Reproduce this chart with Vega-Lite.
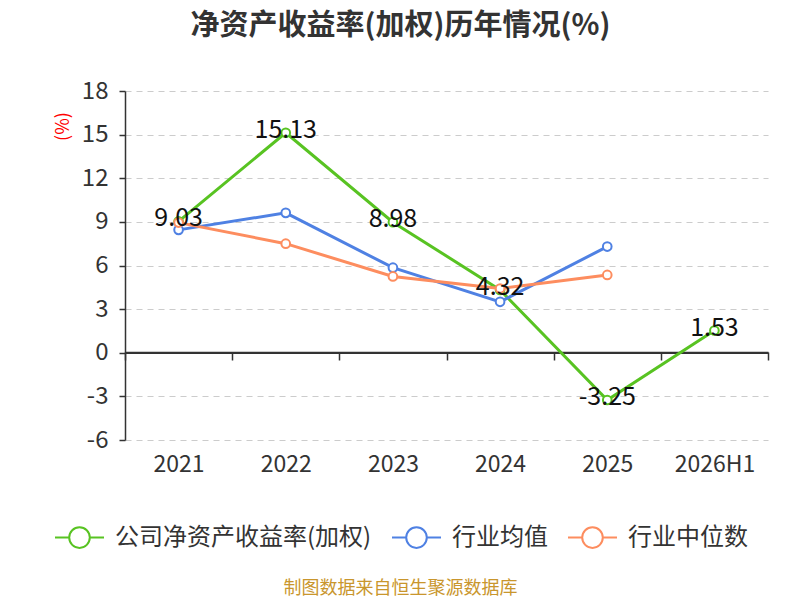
{
  "$schema": "https://vega.github.io/schema/vega-lite/v6.json",
  "autosize": "none",
  "width": 643,
  "height": 349,
  "padding": {"left": 125, "top": 91, "right": 32, "bottom": 160},
  "background": "white",
  "config": {
    "font": "Noto Sans CJK SC",
    "view": {"stroke": null}
  },
  "title": {
    "text": "净资产收益率(加权)历年情况(%)",
    "fontSize": 29,
    "fontWeight": "bold",
    "color": "#333333",
    "anchor": "middle",
    "dx": -46,
    "offset": 38
  },
  "data": {
    "values": [
      {"year": "2021", "series": "公司净资产收益率(加权)", "value": 9.03},
      {"year": "2022", "series": "公司净资产收益率(加权)", "value": 15.13},
      {"year": "2023", "series": "公司净资产收益率(加权)", "value": 8.98},
      {"year": "2024", "series": "公司净资产收益率(加权)", "value": 4.32},
      {"year": "2025", "series": "公司净资产收益率(加权)", "value": -3.25},
      {"year": "2026H1", "series": "公司净资产收益率(加权)", "value": 1.53},
      {"year": "2021", "series": "行业均值", "value": 8.45},
      {"year": "2022", "series": "行业均值", "value": 9.62},
      {"year": "2023", "series": "行业均值", "value": 5.85},
      {"year": "2024", "series": "行业均值", "value": 3.5},
      {"year": "2025", "series": "行业均值", "value": 7.3},
      {"year": "2021", "series": "行业中位数", "value": 8.95},
      {"year": "2022", "series": "行业中位数", "value": 7.5},
      {"year": "2023", "series": "行业中位数", "value": 5.25},
      {"year": "2024", "series": "行业中位数", "value": 4.42},
      {"year": "2025", "series": "行业中位数", "value": 5.35}
    ]
  },
  "encoding": {
    "x": {
      "field": "year",
      "type": "ordinal",
      "sort": ["2021", "2022", "2023", "2024", "2025", "2026H1"],
      "scale": {"type": "band", "paddingInner": 0, "paddingOuter": 0},
      "axis": {
        "offset": -88,
        "tickBand": "extent",
        "domainColor": "#333333",
        "domainWidth": 1.5,
        "tickColor": "#333333",
        "tickWidth": 1.5,
        "tickSize": 8,
        "labelAngle": 0,
        "labelFontSize": 23,
        "labelColor": "#333333",
        "labelPadding": 93,
        "grid": false,
        "title": "制图数据来自恒生聚源数据库",
        "titleColor": "#c9962d",
        "titleFontSize": 18,
        "titleFontWeight": "normal",
        "titleX": 275,
        "titleY": 236,
        "titleBaseline": "middle",
        "titleAnchor": null
      }
    },
    "y": {
      "field": "value",
      "type": "quantitative",
      "scale": {"domain": [-6, 18], "nice": false},
      "axis": {
        "values": [-6, -3, 0, 3, 6, 9, 12, 15, 18],
        "labelExpr": "toString(datum.value)",
        "domainColor": "#333333",
        "domainWidth": 1.5,
        "tickColor": "#333333",
        "tickWidth": 1.5,
        "tickSize": 6,
        "labelFontSize": 24,
        "labelColor": "#333333",
        "labelPadding": 11,
        "gridColor": "#cccccc",
        "gridDash": [6, 5],
        "gridWidth": 1.2,
        "title": "(%)",
        "titleColor": "#ff0000",
        "titleFontSize": 18,
        "titleFontWeight": "normal",
        "titleAngle": -90,
        "titleX": -62,
        "titleY": 35,
        "titleAlign": "center",
        "titleBaseline": "middle"
      }
    },
    "color": {
      "field": "series",
      "type": "nominal",
      "sort": ["公司净资产收益率(加权)", "行业均值", "行业中位数"],
      "scale": {
        "domain": ["公司净资产收益率(加权)", "行业均值", "行业中位数"],
        "range": ["#58c322", "#4f81e3", "#fd8d5f"]
      },
      "legend": {
        "orient": "none",
        "legendX": -71,
        "legendY": 421,
        "direction": "horizontal",
        "title": null,
        "symbolType": "M-1,0H-0.42M0.42,0H1M0.42,0A0.42,0.42,0,1,1,-0.42,0A0.42,0.42,0,1,1,0.42,0",
        "symbolSize": 2400,
        "symbolStrokeWidth": 2,
        "symbolFillColor": "white",
        "labelFontSize": 24,
        "labelColor": "#333333",
        "labelOffset": 10,
        "labelLimit": 400,
        "columnPadding": 16
      }
    }
  },
  "layer": [
    {
      "mark": {"type": "rule", "color": "#333333", "strokeWidth": 1.5},
      "encoding": {"y": {"datum": 0}, "x": null, "color": null}
    },
    {
      "mark": {"type": "line", "strokeWidth": 3}
    },
    {
      "mark": {"type": "point", "shape": "circle", "filled": false, "fill": "white", "fillOpacity": 1, "size": 75, "strokeWidth": 2, "opacity": 1},
      "encoding": {
        "color": null,
        "stroke": {"field": "series", "type": "nominal", "scale": {"domain": ["公司净资产收益率(加权)", "行业均值", "行业中位数"], "range": ["#58c322", "#4f81e3", "#fd8d5f"]}, "legend": null}
      }
    },
    {
      "transform": [
        {"filter": "datum.series === '公司净资产收益率(加权)'"},
        {"calculate": "toString(datum.value)", "as": "label"}
      ],
      "mark": {"type": "text", "fontSize": 25, "color": "#111111", "baseline": "middle", "dy": -3},
      "encoding": {
        "text": {"field": "label", "type": "nominal"},
        "color": null
      }
    }
  ]
}
